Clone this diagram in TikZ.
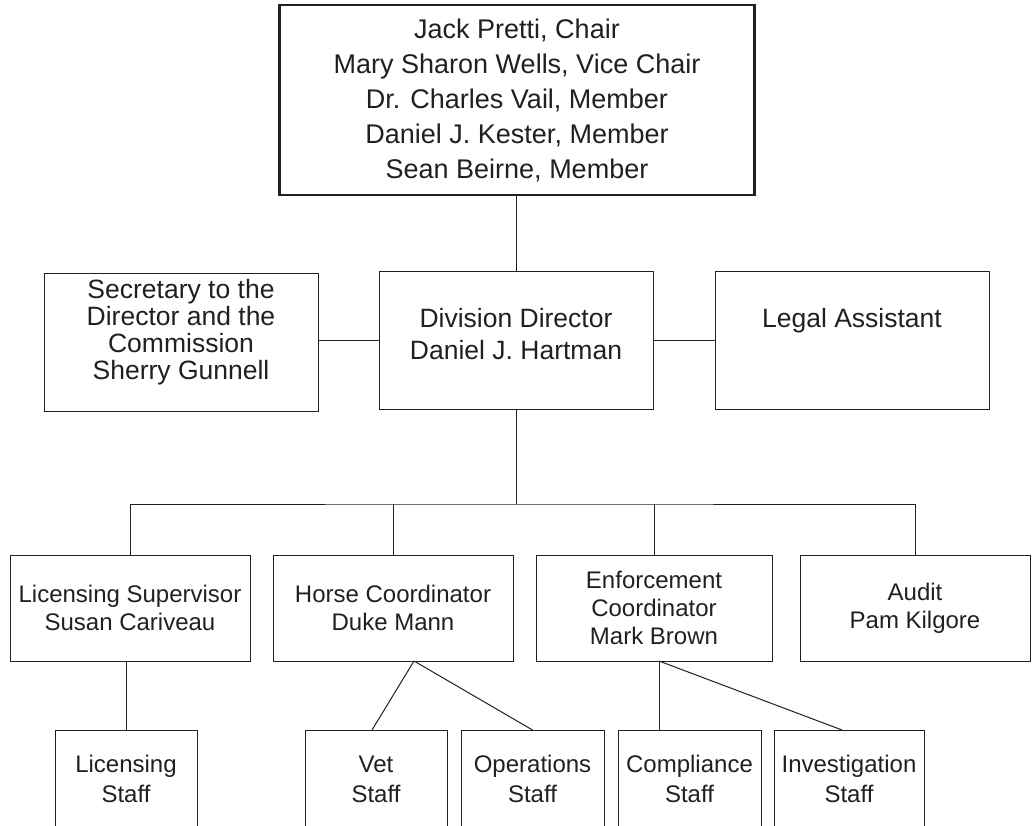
\documentclass[tikz,border=0pt]{standalone}
\usepackage{fontspec}
\setmainfont{Liberation Sans}
\usetikzlibrary{positioning, calc}
\definecolor{inkgray}{HTML}{231F20}

\begin{document}
\begin{tikzpicture}[
    x=1pt, y=-1pt,
    every node/.style={align=center, text=inkgray},
    box/.style={rectangle, draw=inkgray, line width=1pt, inner sep=0pt, outer sep=0pt},
    board/.style={box, line width=2.4pt, minimum width=475pt, minimum height=190pt, font=\fontsize{27}{35}\selectfont},
    office/.style={box, minimum width=274pt, minimum height=138pt, text depth=13pt, font=\fontsize{26.5}{32}\selectfont},
    unit/.style={box, minimum height=106pt, font=\fontsize{24}{28}\selectfont},
    staff/.style={box, minimum height=98pt, font=\fontsize{24}{30}\selectfont},
    link/.style={draw=inkgray, line width=1pt}
]
\useasboundingbox (0,0) rectangle (1032,826);

% Commission
\node (board) [board] at (517,100) {Jack Pretti, Chair\\Mary Sharon Wells, Vice Chair\\Dr. Charles Vail, Member\\Daniel J. Kester, Member\\Sean Beirne, Member};

% Director and his office
\node (director) [office] at (516,340) {Division Director\\Daniel J. Hartman};
\node (secretary) [office, left=61pt of director, yshift=-2pt, text depth=26pt, font=\fontsize{26.5}{27}\selectfont] {Secretary to the\\Director and the\\Commission\\Sherry Gunnell};
\node (legal) [office, right=62pt of director] {Legal Assistant\\\mbox{}};

% Coordinators
\node (licensing) [unit, minimum width=240pt] at (130,608) {Licensing Supervisor\\Susan Cariveau};
\node (horse) [unit, minimum width=240pt, right=23pt of licensing] {Horse Coordinator\\Duke Mann};
\node (enforce) [unit, minimum width=236pt, right=23pt of horse] {Enforcement\\Coordinator\\Mark Brown};
\node (audit) [unit, minimum width=230pt, right=28pt of enforce] {Audit\\Pam Kilgore};

% Staff
\node (licstaff) [staff, minimum width=142pt] at (126,779) {Licensing\\Staff};
\node (vet) [staff, minimum width=142pt] at (376,779) {Vet\\Staff};
\node (ops) [staff, minimum width=143pt, right=14pt of vet] {Operations\\Staff};
\node (comply) [staff, minimum width=143pt, right=14pt of ops] {Compliance\\Staff};
\node (invest) [staff, minimum width=150pt, right=13pt of comply] {Investigation\\Staff};

% Connectors
\coordinate (bus) at (516,504);
\coordinate (horsefork) at ($(horse.south)+(21,0)$);
\coordinate (enforcefork) at ($(enforce.south)+(5,0)$);

\draw [link] (director.north |- board.south) -- (director.north);
\draw [link] (director.west) -- (director.west -| secretary.east);
\draw [link] (director.east) -- (director.east -| legal.west);
\draw [link] (director.south) -- (bus);
\draw [link] (licensing.north) |- (bus) -| (audit.north);
\draw [link] (horse.north) -- (horse.north |- bus);
\draw [link] (enforce.north) -- (enforce.north |- bus);

\draw [link] (licstaff.north |- licensing.south) -- (licstaff.north);
\draw [link] (horsefork) -- ([xshift=-4pt]vet.north);
\draw [link] (horsefork) -- (ops.north);
\draw [link] (enforcefork) -- (enforcefork |- comply.north);
\draw [link] (enforcefork) -- ([xshift=-7pt]invest.north);

\end{tikzpicture}
\end{document}
